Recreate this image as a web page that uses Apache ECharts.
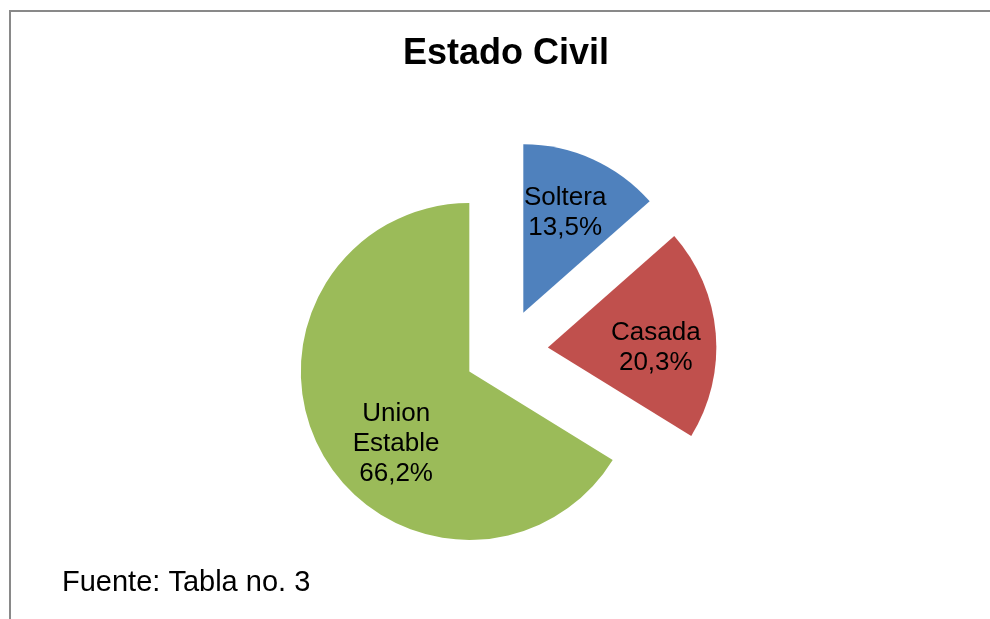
<!DOCTYPE html>
<html>
<head>
<meta charset="utf-8">
<script src="https://cdn.jsdelivr.net/npm/echarts@6/dist/echarts.min.js"></script>
<style>
html,body{margin:0;padding:0;background:#fff;}
#chart{width:990px;height:619px;}
</style>
</head>
<body>
<div id="chart"></div>
<script>
var categories = ['Soltera', 'Casada', 'Union Estable'];
var values = [13.5, 20.3, 66.2];
var colors = ['#4F81BD', '#C0504D', '#9BBB59'];
var titleText = 'Estado Civil';
var sourceText = 'Fuente: Tabla no. 3';

var labelShift = [[6, -20], [21, 8], [3, 30]];

var chart = echarts.init(document.getElementById('chart'), null, {renderer: 'canvas'});
var font = '"Liberation Sans", Arial, sans-serif';

chart.setOption({
  animation: false,
  backgroundColor: '#ffffff',
  title: [{
    text: titleText,
    left: 506,
    textAlign: 'center',
    top: 36,
    padding: 0,
    textStyle: {fontFamily: font, fontSize: 36, fontWeight: 'bold', color: '#000'}
  }, {
    text: sourceText,
    left: 62,
    top: 568,
    padding: 0,
    textStyle: {fontFamily: font, fontSize: 29, fontWeight: 'normal', color: '#000'}
  }],
  graphic: [{
    type: 'polyline',
    silent: true,
    shape: {points: [[10, 619], [10, 11], [990, 11]]},
    style: {stroke: '#898989', lineWidth: 2, fill: null}
  }],
  series: [{
    type: 'pie',
    center: [506, 351],
    radius: [0, 168.5],
    startAngle: 90,
    clockwise: true,
    selectedMode: 'multiple',
    selectedOffset: 42,
    avoidLabelOverlap: false,
    emphasis: {disabled: true},
    label: {
      show: true,
      position: 'inside',
      fontFamily: font,
      fontSize: 26,
      lineHeight: 30,
      color: '#000',
      align: 'center',
      formatter: function (p) {
        return p.name.replace(' ', '\n') + '\n' + p.value.toFixed(1).replace('.', ',') + '%';
      }
    },
    labelLine: {show: false},
    labelLayout: function (params) {
      var s = labelShift[params.dataIndex];
      return {dx: s[0], dy: s[1]};
    },
    data: categories.map(function (c, i) {
      return {name: c, value: values[i], selected: true, itemStyle: {color: colors[i]},
              select: {itemStyle: {color: colors[i]}}};
    })
  }]
});
</script>
</body>
</html>
